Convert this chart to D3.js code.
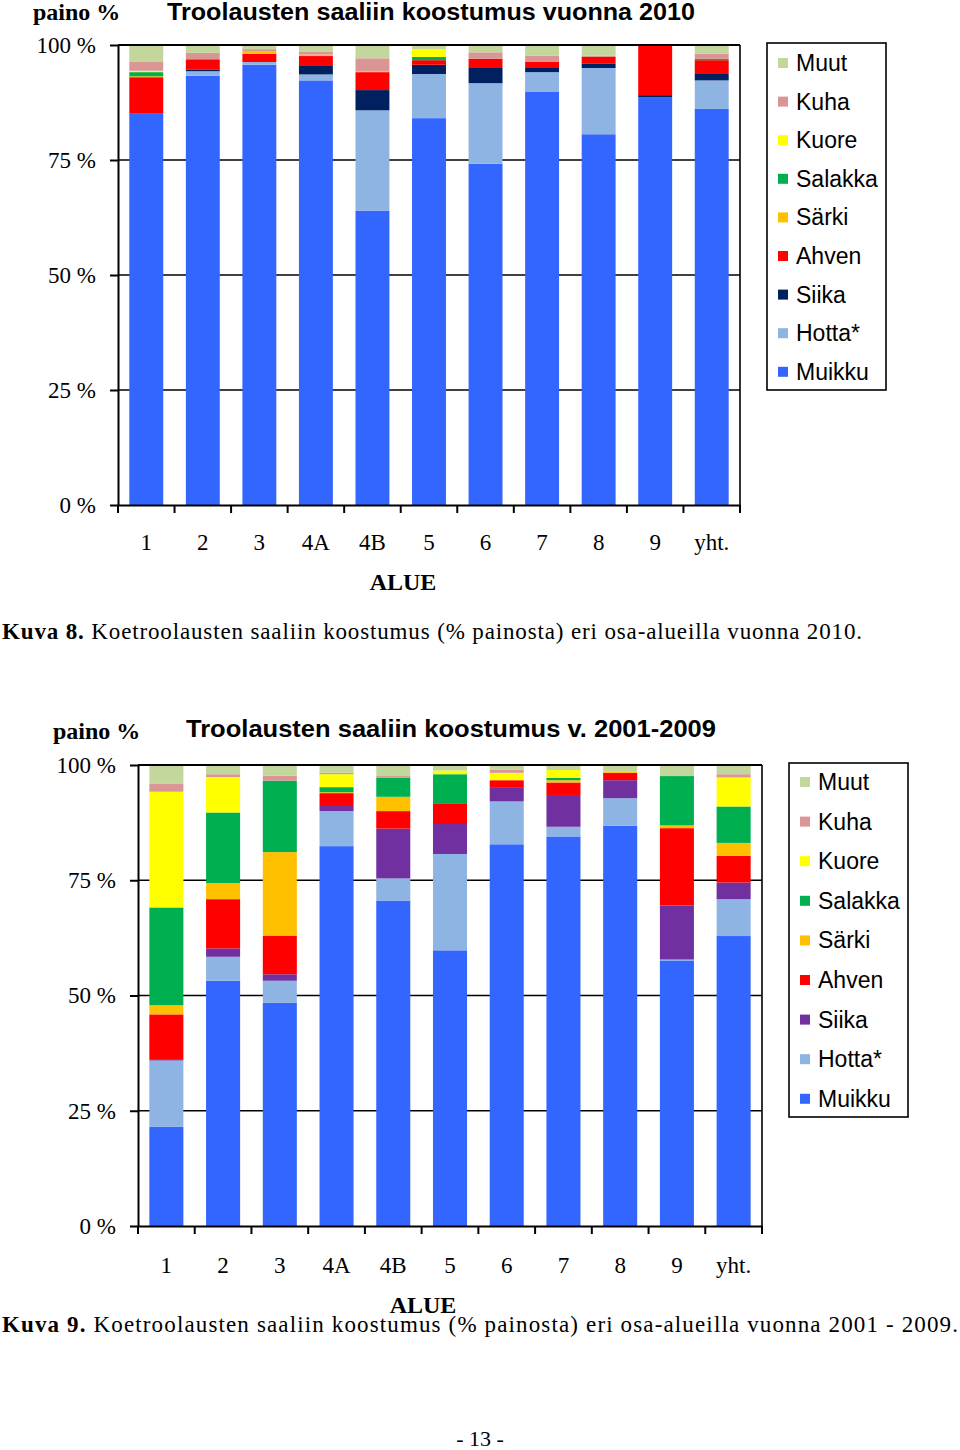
<!DOCTYPE html>
<html><head><meta charset="utf-8">
<script src="https://cdn.jsdelivr.net/npm/d3@7"></script>
<style>body{margin:0;background:#fff}svg{display:block}</style>
</head><body>
<svg id="page" width="960" height="1450"></svg>
<script>
// ---------- DATA ----------
const categories = ["1","2","3","4A","4B","5","6","7","8","9","yht."];
const species = ["Muikku","Hotta*","Siika","Ahven","Särki","Salakka","Kuore","Kuha","Muut"]; // stack order bottom->top
const legendOrder = ["Muut","Kuha","Kuore","Salakka","Särki","Ahven","Siika","Hotta*","Muikku"];
const yTicks = [0,25,50,75,100];

// 2010 (Kuva 8)
const muikku2010  = [85.2, 93.3, 95.7, 92.3, 64.0, 84.1, 74.2, 89.9, 80.6, 88.6, 86.1];
const hotta2010   = [0.0, 1.0, 0.6, 1.3, 21.8, 9.6, 17.5, 4.2, 14.4, 0.0, 6.2];
const siika2010   = [0.0, 0.4, 0.0, 2.0, 4.4, 2.0, 3.3, 0.9, 0.9, 0.5, 1.4];
const ahven2010   = [7.8, 2.2, 1.8, 2.0, 3.9, 1.0, 2.0, 1.4, 1.5, 10.9, 3.0];
const sarki2010   = [0.2, 0.0, 0.6, 0.3, 0.2, 0.0, 0.0, 0.0, 0.0, 0.0, 0.0];
const salakka2010 = [0.9, 0.0, 0.0, 0.0, 0.0, 0.7, 0.0, 0.0, 0.0, 0.0, 0.3];
const kuore2010   = [0.3, 0.0, 0.0, 0.0, 0.0, 1.7, 0.0, 0.0, 0.0, 0.0, 0.0];
const kuha2010    = [1.9, 1.4, 0.4, 0.7, 2.8, 0.0, 1.4, 1.3, 0.3, 0.0, 1.1];
const muut2010    = [3.7, 1.7, 0.9, 1.4, 2.9, 0.9, 1.6, 2.3, 2.3, 0.0, 1.9];

// 2001-2009 (Kuva 9)
const muikku0109  = [21.5, 53.2, 48.4, 82.4, 70.6, 59.8, 82.8, 84.5, 86.8, 57.6, 62.9];
const hotta0109   = [14.4, 5.2, 4.8, 7.6, 4.8, 20.9, 9.3, 2.1, 6.0, 0.2, 8.0];
const siika0109   = [0.3, 1.8, 1.4, 1.1, 10.8, 6.5, 3.1, 6.9, 3.9, 11.7, 3.6];
const ahven0109   = [9.7, 10.7, 8.4, 2.8, 3.8, 4.5, 1.5, 2.7, 1.6, 16.8, 5.8];
const sarki0109   = [2.0, 3.5, 18.1, 0.2, 3.1, 0.0, 0.0, 0.5, 0.2, 0.6, 2.8];
const salakka0109 = [21.2, 15.3, 15.5, 1.1, 4.1, 6.3, 0.0, 0.5, 0.0, 10.7, 7.9];
const kuore0109   = [25.1, 7.7, 0.0, 2.8, 0.0, 0.8, 1.6, 1.7, 0.0, 0.0, 6.3];
const kuha0109    = [1.7, 0.6, 1.1, 0.3, 0.4, 0.0, 0.7, 0.0, 0.0, 0.0, 0.7];
const muut0109    = [4.1, 2.0, 2.3, 1.7, 2.4, 1.2, 1.0, 1.1, 1.5, 2.4, 2.0];

const colors2010 = {"Muikku":"#3366ff","Hotta*":"#8eb4e3","Siika":"#002060","Ahven":"#ff0000","Särki":"#ffc000","Salakka":"#00b050","Kuore":"#ffff00","Kuha":"#d99694","Muut":"#c3d69b"};
const colors0109 = {"Muikku":"#3366ff","Hotta*":"#8eb4e3","Siika":"#7030a0","Ahven":"#ff0000","Särki":"#ffc000","Salakka":"#00b050","Kuore":"#ffff00","Kuha":"#d99694","Muut":"#c3d69b"};

function buildRows(arrs){
  return categories.map((c,i)=>{
    const r={cat:c};
    species.forEach((s,j)=>r[s]=arrs[j][i]);
    return r;
  });
}
const rows2010 = buildRows([muikku2010,hotta2010,siika2010,ahven2010,sarki2010,salakka2010,kuore2010,kuha2010,muut2010]);
const rows0109 = buildRows([muikku0109,hotta0109,siika0109,ahven0109,sarki0109,salakka0109,kuore0109,kuha0109,muut0109]);

const svg = d3.select("#page");
const serif = "'Liberation Serif','Times New Roman',serif";
const sans = "'Liberation Sans',Arial,sans-serif";

function drawChart(o){
  const g = svg.append("g");
  const x = d3.scaleBand().domain(categories).range([o.x0,o.x1]).paddingInner(0.4).paddingOuter(0.2);
  const y = d3.scaleLinear().domain([0,100]).range([o.y0,o.y1]);
  const stack = d3.stack().keys(species)(o.rows);

  // gridlines
  g.append("g").selectAll("line").data(yTicks.filter(t=>t>0)).join("line")
    .attr("x1",o.x0).attr("x2",o.x1).attr("y1",d=>y(d)).attr("y2",d=>y(d))
    .attr("stroke","#000").attr("stroke-width",1.6);

  // bars
  g.append("g").selectAll("g.layer").data(stack).join("g").attr("fill",d=>o.colors[d.key])
    .selectAll("rect").data(d=>d).join("rect")
    .attr("x",d=>x(d.data.cat)).attr("width",x.bandwidth())
    .attr("y",d=>y(d[1])).attr("height",d=>Math.max(0,y(d[0])-y(d[1])));

  // right border
  g.append("line").attr("x1",o.x1).attr("x2",o.x1).attr("y1",y(100)).attr("y2",y(0))
    .attr("stroke","#000").attr("stroke-width",1.6);
  // top border overlay
  g.append("line").attr("x1",o.x0).attr("x2",o.x1).attr("y1",y(100)).attr("y2",y(100))
    .attr("stroke","#000").attr("stroke-width",1.8);

  // y axis
  const ya = g.append("g").attr("transform",`translate(${o.x0},0)`)
    .call(d3.axisLeft(y).tickValues(yTicks).tickFormat(d=>d+" %").tickSize(8).tickSizeOuter(0).tickPadding(14));
  ya.selectAll("path,line").attr("stroke","#000").attr("stroke-width",2);
  ya.selectAll("text").attr("font-family",serif).attr("font-size",23).attr("fill","#000");

  // x axis: line, ticks at band boundaries
  const xa = g.append("g").attr("transform",`translate(0,${o.y0})`)
    .call(d3.axisBottom(x).tickSize(0).tickPadding(o.labelPad));
  xa.select("path").attr("stroke","#000").attr("stroke-width",2);
  xa.selectAll("text").attr("font-family",serif).attr("font-size",23).attr("fill","#000");
  const bounds = categories.map(c=>x(c)-x.step()*x.paddingInner()/2).concat([o.x1]);
  bounds[0]=o.x0;
  g.append("g").selectAll("line").data(bounds).join("line")
    .attr("x1",d=>d).attr("x2",d=>d).attr("y1",o.y0).attr("y2",o.y0+8)
    .attr("stroke","#000").attr("stroke-width",2);

  // axis title
  g.append("text").attr("x",o.alueX).attr("y",o.alueY).attr("text-anchor","middle")
    .attr("font-family",serif).attr("font-weight","bold").attr("font-size",24).text("ALUE");
  g.append("text").attr("x",o.painoX).attr("y",o.painoY)
    .attr("font-family",serif).attr("font-weight","bold").attr("font-size",24).text("paino %");
  g.append("text").attr("x",o.titleX).attr("y",o.titleY)
    .attr("font-family",sans).attr("font-weight","bold").attr("font-size",23)
    .attr("textLength",o.titleW).attr("lengthAdjust","spacingAndGlyphs").text(o.title);

  // legend
  const L = o.legend;
  const lg = g.append("g");
  lg.append("rect").attr("x",L.x).attr("y",L.y).attr("width",L.w).attr("height",L.h)
    .attr("fill","#fff").attr("stroke","#000").attr("stroke-width",1.6);
  legendOrder.forEach((s,i)=>{
    const cy = L.first + i*L.step;
    lg.append("rect").attr("x",L.x+11).attr("y",cy-5).attr("width",10).attr("height",10).attr("fill",o.colors[s]);
    lg.append("text").attr("x",L.x+29).attr("y",cy+8).attr("font-family",sans).attr("font-size",23).text(s);
  });
}

drawChart({rows:rows2010,colors:colors2010,x0:118,x1:740,y0:505,y1:45,labelPad:29,
  alueX:403,alueY:590,painoX:33,painoY:20,titleX:167,titleY:20,titleW:528,
  title:"Troolausten saaliin koostumus vuonna 2010",
  legend:{x:767,y:43,w:119,h:347,first:63,step:38.6}});

drawChart({rows:rows0109,colors:colors0109,x0:138,x1:762,y0:1226,y1:765,labelPad:31,
  alueX:423,alueY:1313,painoX:53,painoY:739,titleX:186,titleY:737,titleW:530,
  title:"Troolausten saaliin koostumus v. 2001-2009",
  legend:{x:789,y:763,w:119,h:354,first:782,step:39.6}});

// captions
function caption(y, bold, rest, width){
  const t = svg.append("text").attr("x",2).attr("y",y).attr("font-family",serif).attr("font-size",23)
    .attr("textLength",width).attr("lengthAdjust","spacing");
  t.append("tspan").attr("font-weight","bold").text(bold);
  t.append("tspan").text(rest);
}
caption(639,"Kuva 8."," Koetroolausten saaliin koostumus (% painosta) eri osa-alueilla vuonna 2010.",860);
caption(1332,"Kuva 9."," Koetroolausten saaliin koostumus (% painosta) eri osa-alueilla vuonna 2001 - 2009.",956);
svg.append("text").attr("x",480).attr("y",1446).attr("text-anchor","middle").attr("font-family",serif)
  .attr("font-size",22).text("- 13 -");
</script>
</body></html>
